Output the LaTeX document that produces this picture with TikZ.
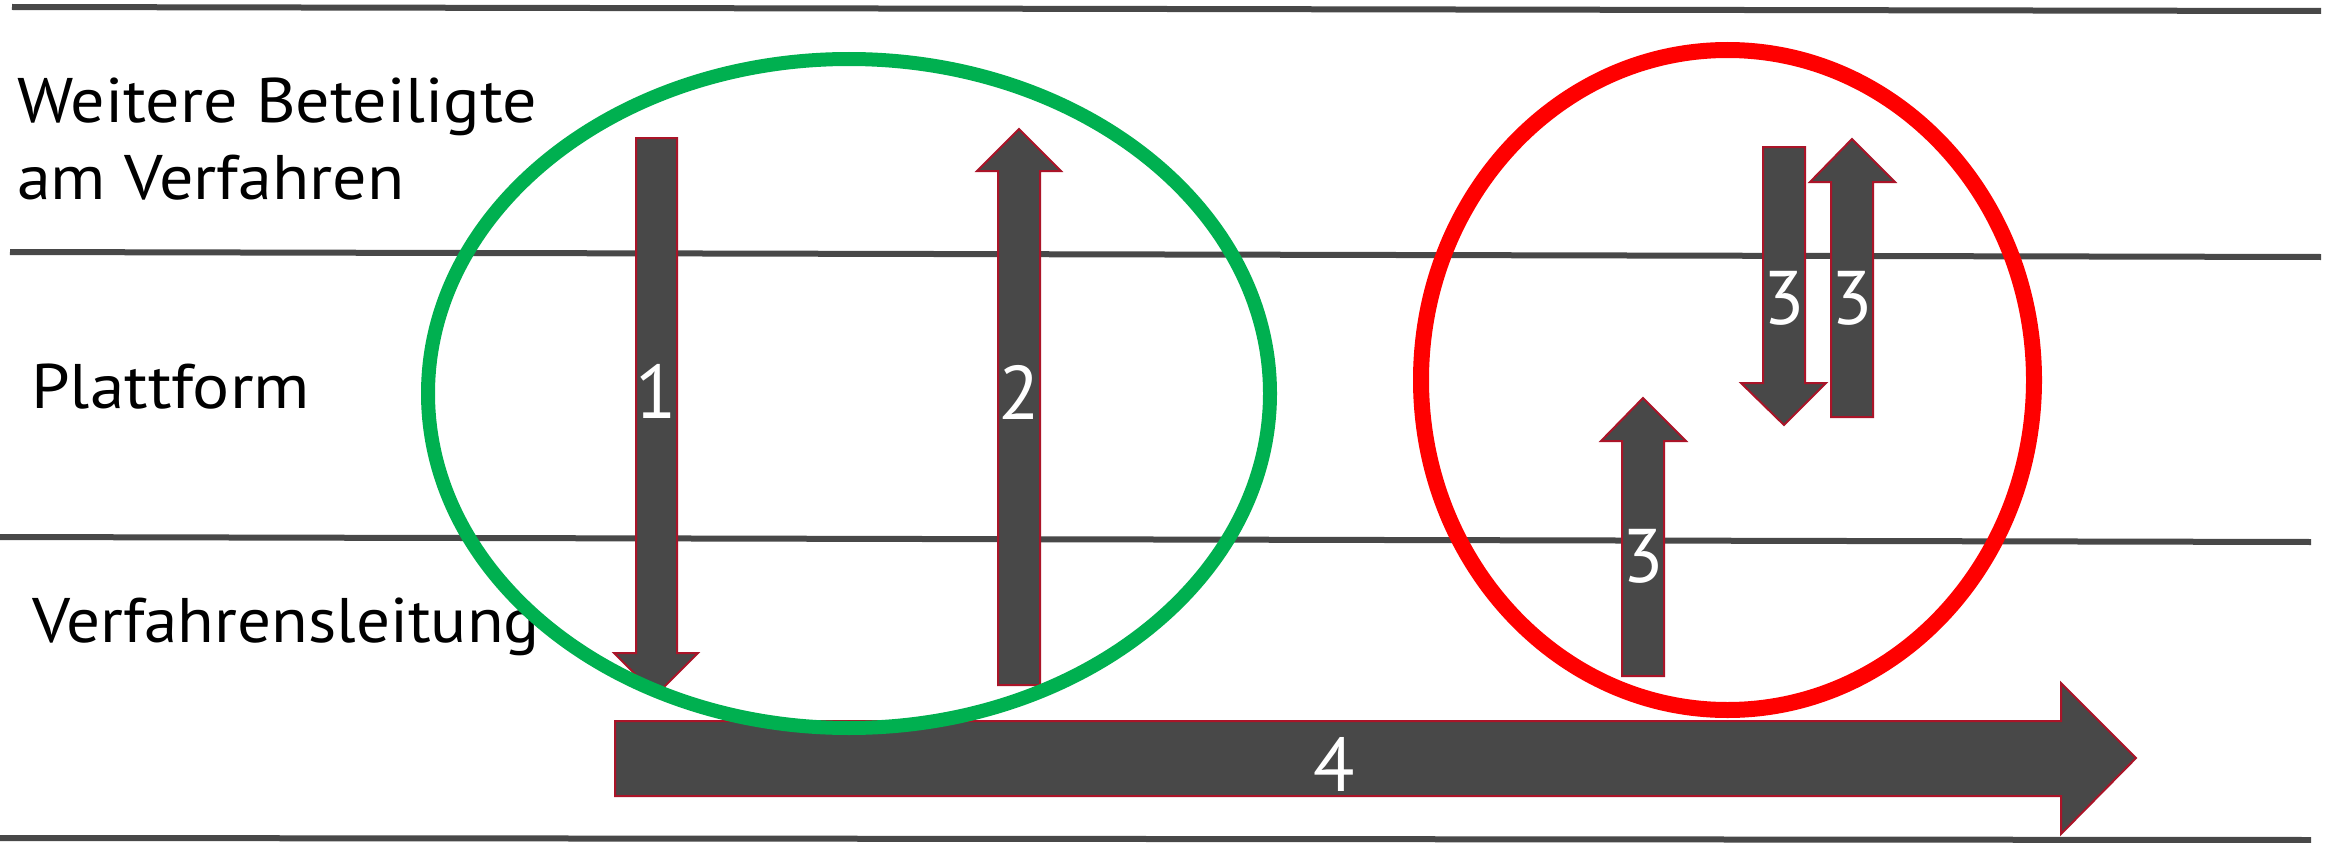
\documentclass[tikz,border=0pt]{standalone}
\usepackage{fontspec}
\setmainfont{PT Sans}
\definecolor{linegray}{RGB}{72,72,72}
\definecolor{arrowgray}{RGB}{72,72,72}
\definecolor{outlinered}{RGB}{170,20,40}
\definecolor{grnell}{RGB}{0,176,80}
\definecolor{redell}{RGB}{255,0,0}
\begin{document}
\begin{tikzpicture}[x=1pt,y=-1pt,
  laneline/.style={draw=linegray,line width=6pt},
  blockarrow/.style={fill=arrowgray,draw=outlinered,line width=2pt,line join=miter},
  lanelabel/.style={anchor=base west,inner sep=0pt,font=\fontsize{63}{76}\selectfont},
  numlabel/.style={anchor=base,inner sep=0pt,text=white,font=\fontsize{76}{90}\selectfont},
  ring/.style={line width=14pt}]
\useasboundingbox (0,0) rectangle (2330,843);
\fill[white] (0,0) rectangle (2330,843);
% lane lines
\draw[laneline] (12,7) -- (2321,11);
\draw[laneline] (10,252) -- (2321,257);
\draw[laneline] (0,537) -- (2311,542);
\draw[laneline] (0,838) -- (2311,840);
% lane labels
\node[lanelabel] (t1) at (17,122) {\scalebox{1.08}[1]{Weitere Beteiligte}};
\node[lanelabel] (t2) at (17,199) {\scalebox{1.08}[1]{am Verfahren}};
\node[lanelabel] (t3) at (31,408) {\scalebox{1.1}[1]{Plattform}};
\node[lanelabel] (t4) at (32,642) {\scalebox{1.065}[1]{Verfahrensleitung}};
% arrow 1 (down)
\draw[blockarrow] (636,138) -- (677,138) -- (677,653) -- (698,653) -- (656,695) -- (614,653) -- (636,653) -- cycle;
\node[numlabel] (n1) at (656,418) {1};
% arrow 2 (up)
\draw[blockarrow] (998,685) -- (1040,685) -- (1040,171) -- (1061,171) -- (1019,129) -- (977,171) -- (998,171) -- cycle;
\node[numlabel] (n2) at (1019,419) {2};
% arrow 3a (down)
\draw[blockarrow] (1763,147) -- (1805,147) -- (1805,383) -- (1826,383) -- (1784,425) -- (1741,383) -- (1763,383) -- cycle;
\node[numlabel] (n3a) at (1784,324) {3};
% arrow 3b (up)
\draw[blockarrow] (1831,417) -- (1873,417) -- (1873,182) -- (1895,182) -- (1852,139) -- (1810,182) -- (1831,182) -- cycle;
\node[numlabel] (n3b) at (1852,324) {3};
% arrow 3c (up)
\draw[blockarrow] (1622,676) -- (1664,676) -- (1664,441) -- (1686,441) -- (1643,398) -- (1601,441) -- (1622,441) -- cycle;
\node[numlabel] (n3c) at (1643,582) {3};
% arrow 4 (right)
\draw[blockarrow] (615,721) -- (2061,721) -- (2061,683) -- (2136,758) -- (2061,834) -- (2061,796) -- (615,796) -- cycle;
\node[numlabel] (n4) at (1334,791) {4};
% ellipses
\draw[ring,draw=grnell] (849,393.5) ellipse [x radius=421pt, y radius=334.5pt];
\draw[ring,draw=redell,line width=16pt] (1727.5,380) ellipse [x radius=306.5pt, y radius=330pt];
\end{tikzpicture}
\end{document}
